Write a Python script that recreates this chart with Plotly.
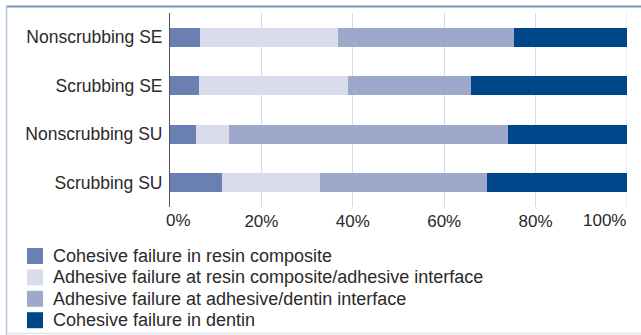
import plotly.graph_objects as go

# ---- data ----
categories = ["Nonscrubbing SE", "Scrubbing SE", "Nonscrubbing SU", "Scrubbing SU"]
series_names = [
    "Cohesive failure in resin composite",
    "Adhesive failure at resin composite/adhesive interface",
    "Adhesive failure at adhesive/dentin interface",
    "Cohesive failure in dentin",
]
cohesive_resin = [6.5, 6.4, 5.7, 11.4]
adhesive_resin_interface = [30.3, 32.5, 7.2, 21.4]
adhesive_dentin_interface = [38.4, 26.9, 61.1, 36.5]
cohesive_dentin = [24.8, 34.2, 26.0, 30.7]
tick_values = [0, 20, 40, 60, 80, 100]
tick_labels = ["0%", "20%", "40%", "60%", "80%", "100%"]

series_values = [cohesive_resin, adhesive_resin_interface, adhesive_dentin_interface, cohesive_dentin]
colors = ["#6a7fb2", "#d9dcea", "#9ea8cb", "#00468a"]

# ---- layout geometry (pixels) ----
W, H = 641, 335
L, R, T, B = 170, 627, 13, 207
FONT = "Liberation Sans, Arial, sans-serif"
TXT = "#2a2a2a"


def px(x):
    return (x - L) / (R - L)


def py(y):
    return (B - y) / (B - T)


fig = go.Figure()
for name, vals, col in zip(series_names, series_values, colors):
    fig.add_trace(go.Bar(
        y=categories, x=vals, name=name, orientation="h",
        marker=dict(color=col, line=dict(width=0)),
        showlegend=False,
    ))

# inner tick labels come from the axis; the two end labels are drawn as
# annotations so they can sit inside the frame as in the original
axis_ticktext = [""] + tick_labels[1:-1] + [""]

shapes = []
annotations = []
annotations.append(dict(xref="x", yref="paper", x=tick_values[0], y=0, xanchor="left",
                        yanchor="top", xshift=-6, yshift=-2, showarrow=False,
                        text=tick_labels[0], font=dict(size=17, color=TXT, family=FONT)))
annotations.append(dict(xref="x", yref="paper", x=tick_values[-1], y=0, xanchor="right",
                        yanchor="top", xshift=1, yshift=-2, showarrow=False,
                        text=tick_labels[-1], font=dict(size=17, color=TXT, family=FONT)))
# gridline at the right end of the axis (plotly omits it at the range edge)
shapes.append(dict(type="line", xref="x", yref="paper", x0=tick_values[-1], x1=tick_values[-1],
                   y0=0, y1=1, line=dict(color="#d5d9e8", width=1), layer="below"))
# manual legend
sq = 16
row_gap = 21.4
leg_top = 248
for i, (name, col) in enumerate(zip(series_names, colors)):
    y0 = leg_top + i * row_gap
    shapes.append(dict(type="rect", xref="paper", yref="paper",
                       x0=px(27), x1=px(27 + sq), y0=py(y0 + sq), y1=py(y0),
                       fillcolor=col, line=dict(width=0), layer="above"))
    annotations.append(dict(xref="paper", yref="paper", x=px(51), y=py(y0 + sq / 2),
                            xanchor="left", yanchor="middle", showarrow=False,
                            text=name, font=dict(size=18, color=TXT, family=FONT)))

# frame lines
shapes.append(dict(type="line", xref="paper", yref="paper", x0=px(6), x1=px(641),
                   y0=py(6.5), y1=py(6.5), line=dict(color="#7394c0", width=2.2)))
shapes.append(dict(type="line", xref="paper", yref="paper", x0=px(6.5), x1=px(6.5),
                   y0=py(6), y1=py(335), line=dict(color="#b3c4db", width=1.5)))
shapes.append(dict(type="line", xref="paper", yref="paper", x0=px(6), x1=px(641),
                   y0=py(333.5), y1=py(333.5), line=dict(color="#dde4ee", width=1.5)))

fig.update_layout(
    width=W, height=H,
    margin=dict(l=L, r=W - R, t=T, b=H - B, pad=0, autoexpand=False),
    barmode="stack",
    bargap=0.61,
    plot_bgcolor="white",
    paper_bgcolor="white",
    font=dict(family=FONT, color=TXT),
    showlegend=False,
    shapes=shapes,
    annotations=annotations,
    xaxis=dict(
        range=[0, 100], tickvals=tick_values, ticktext=axis_ticktext,
        showgrid=True, gridcolor="#d5d9e8", gridwidth=1,
        zeroline=False, showline=False, ticks="",
        ticklabelstandoff=2, automargin=False,
        tickfont=dict(size=17, color=TXT),
        fixedrange=True,
    ),
    yaxis=dict(
        categoryorder="array", categoryarray=categories, autorange="reversed",
        showline=True, linecolor="#555555", linewidth=1,
        showgrid=False, zeroline=False, ticks="",
        ticklabelstandoff=3, automargin=False,
        tickfont=dict(size=17.5, color=TXT),
        fixedrange=True,
    ),
)

fig.write_html("out.html")
